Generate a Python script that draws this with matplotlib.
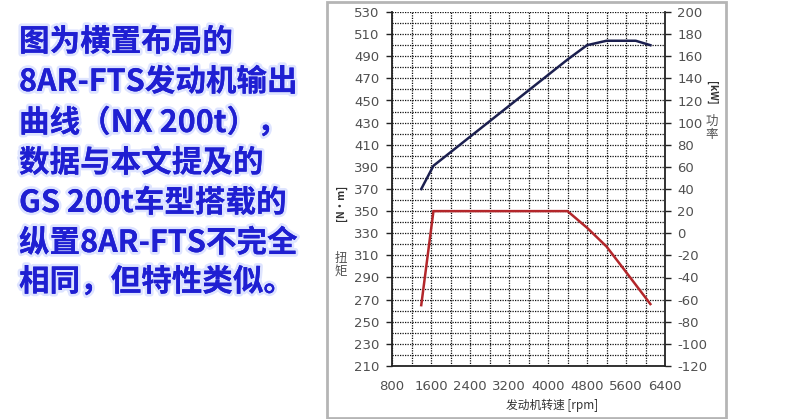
import matplotlib
matplotlib.use("Agg")
import matplotlib.pyplot as plt
from matplotlib.patches import Rectangle
from matplotlib.ticker import MultipleLocator, FuncFormatter
import matplotlib.patheffects as pe

plt.rcParams['font.family'] = ['Noto Sans CJK SC', 'DejaVu Sans']
plt.rcParams['axes.unicode_minus'] = False

# ---- data ----
rpm_torque = [1400, 1650, 4400, 4800, 5200, 5600, 6100]
torque_nm = [265, 350, 350, 335, 318, 295, 266]
rpm_power = [1400, 1650, 4400, 4800, 5200, 5800, 6100]
power_kw = [40, 61, 157, 170, 174, 174, 170]

x_ticks = [800, 1600, 2400, 3200, 4000, 4800, 5600, 6400]
torque_ticks = list(range(210, 531, 20))
power_ticks = list(range(-120, 201, 20))

note_lines = [
    "图为横置布局的",
    "8AR-FTS发动机输出",
    "曲线（NX 200t），",
    "数据与本文提及的",
    "GS 200t车型搭载的",
    "纵置8AR-FTS不完全",
    "相同，但特性类似。",
]

W, H = 800, 419
fig = plt.figure(figsize=(W / 100, H / 100), dpi=100)
fig.patch.set_facecolor('white')

# chart frame
fig.patches.append(Rectangle((327 / W, 1 / H), (726 - 327) / W, (417 - 1) / H,
                             transform=fig.transFigure, facecolor='none',
                             edgecolor='#b5b5b5', linewidth=2, zorder=0))

ax = fig.add_axes([392 / W, 1 - 366 / H, (665 - 392) / W, (366 - 12) / H])
ax.set_zorder(2)
ax.set_xlim(800, 6400)
ax.set_ylim(210, 530)
ax.set_facecolor('white')

ax.xaxis.set_minor_locator(MultipleLocator(400))
ax.yaxis.set_minor_locator(MultipleLocator(10))
ax.set_xticks(x_ticks)
ax.set_yticks(torque_ticks)

grid_kw = dict(color='#111111', linestyle=(0, (1.0, 1.0)), linewidth=0.9)
ax.grid(True, which='both', axis='both', **grid_kw)
ax.set_axisbelow(True)

for s in ['left', 'right', 'bottom']:
    ax.spines[s].set_linewidth(1.3)
    ax.spines[s].set_color('#222222')
ax.spines['top'].set_visible(False)

lab_color = '#505050'
ax.tick_params(axis='y', which='major', direction='out', length=4, width=1,
               labelsize=9.5, pad=5, color='#222222', labelcolor=lab_color)
ax.tick_params(axis='x', which='major', direction='out', length=0,
               labelsize=9.5, labelcolor=lab_color, pad=10)
ax.tick_params(which='minor', length=0)

ax.plot(rpm_torque, torque_nm, color='#b3262a', linewidth=1.8, zorder=3,
        solid_joinstyle='miter')

ax2 = ax.twinx()
ax2.set_zorder(3)
ax2.patch.set_visible(False)
ax2.set_ylim(-120, 200)
ax2.set_yticks(power_ticks)
ax2.yaxis.set_major_formatter(FuncFormatter(lambda v, p: f"{int(v)}"))
ax2.tick_params(axis='y', direction='out', length=4, width=1, labelsize=9.5,
                pad=5, color='#222222', labelcolor=lab_color)
for s in ax2.spines.values():
    s.set_visible(False)
ax2.plot(rpm_power, power_kw, color='#1b1f4f', linewidth=1.8, zorder=3)

for lbl in ax.get_xticklabels() + ax.get_yticklabels() + ax2.get_yticklabels():
    lbl.set_fontfamily('DejaVu Sans')

# axis labels
fig.text(341 / W, 1 - 203 / H, "[N·m]", rotation=90, ha='center', va='center',
         fontsize=7.5, color='#333333', fontweight='bold')
fig.text(341 / W, 1 - 265 / H, "扭\n矩", ha='center', va='center',
         fontsize=9, color='#555555', linespacing=1.0)
fig.text(712 / W, 1 - 93 / H, "[kW]", rotation=-90, ha='center', va='center',
         fontsize=7.5, color='#333333', fontweight='bold')
fig.text(712 / W, 1 - 128 / H, "功\n率", ha='center', va='center',
         fontsize=9, color='#555555', linespacing=1.0)
fig.text(552 / W, 1 - 405 / H, "发动机转速 [rpm]", ha='center', va='center',
         fontsize=8.5, color='#333333')

# left note text
line_y = [42, 82, 123, 163, 203, 243, 282]
for txt, yy in zip(note_lines, line_y):
    fig.text(19 / W, 1 - yy / H, txt, ha='left', va='center', fontsize=22,
             fontweight='bold', color='#1f1fd2',
             path_effects=[pe.withStroke(linewidth=4, foreground='#aebcff', alpha=0.4),
                           pe.Normal()])

fig.savefig("out.png", dpi=100, facecolor='white')
